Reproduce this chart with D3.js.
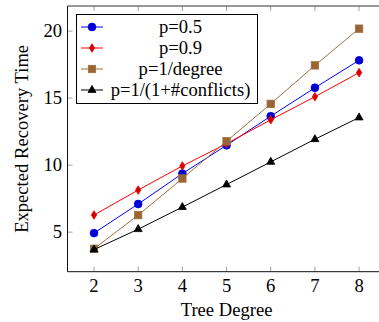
<!DOCTYPE html>
<html><head><meta charset="utf-8">
<script src="https://cdn.jsdelivr.net/npm/d3@7"></script>
<style>body{margin:0;background:#fff}svg{display:block}text{font-family:"Liberation Serif","Times New Roman",serif;}</style>
</head><body><svg id="c" width="379" height="322"></svg>
<script>
const degrees = [2,3,4,5,6,7,8];
const p05 = [4.93,7.1,9.37,11.48,13.65,15.77,17.82];
const p09 = [6.28,8.14,9.94,11.6,13.38,15.1,16.9];
const pDeg = [3.76,6.27,9.0,11.78,14.57,17.44,20.18];
const pConf = [3.7,5.22,6.87,8.55,10.24,11.93,13.55];
const seriesNames = ["p=0.5","p=0.9","p=1/degree","p=1/(1+#conflicts)"];
const xTicks = [2,3,4,5,6,7,8];
const yTicks = [5,10,15,20];

const series = [
  {name:seriesNames[0], vals:p05, stroke:"#0000ff", fill:"#0000cc", mark:"circle"},
  {name:seriesNames[1], vals:p09, stroke:"#ff0000", fill:"#cc0000", mark:"diamond"},
  {name:seriesNames[2], vals:pDeg, stroke:"#a0703f", fill:"#996633", mark:"square"},
  {name:seriesNames[3], vals:pConf, stroke:"#000000", fill:"#000000", mark:"triangle"}
];

const svg = d3.select("#c");
const L=67.5, R=385.6, T=6, B=271.7;
const x = d3.scaleLinear().domain([1.4,8.6]).range([L,R]);
const y = d3.scaleLinear().domain([2.05,21.87]).range([B,T]);
const FS = 18.6;

// ticks (inside, both sides)
const tickC = "#8c8c8c", tl=5;
const g = svg.append("g");
xTicks.forEach(t=>{
  g.append("line").attr("x1",x(t)).attr("x2",x(t)).attr("y1",B).attr("y2",B-tl).attr("stroke",tickC).attr("stroke-width",0.8);
  g.append("line").attr("x1",x(t)).attr("x2",x(t)).attr("y1",T).attr("y2",T+tl).attr("stroke",tickC).attr("stroke-width",0.8);
  g.append("text").attr("x",x(t)).attr("y",B+20.5).attr("text-anchor","middle").attr("font-size",FS).text(t);
});
yTicks.forEach(t=>{
  g.append("line").attr("x1",L).attr("x2",L+tl).attr("y1",y(t)).attr("y2",y(t)).attr("stroke",tickC).attr("stroke-width",0.8);
  g.append("text").attr("x",L-5.5).attr("y",y(t)+6).attr("text-anchor","end").attr("font-size",FS).text(t);
});
// axis box
svg.append("line").attr("x1",L).attr("x2",L).attr("y1",T).attr("y2",B).attr("stroke","#111").attr("stroke-width",1);
svg.append("line").attr("x1",L).attr("x2",R).attr("y1",B).attr("y2",B).attr("stroke","#111").attr("stroke-width",1);
svg.append("line").attr("x1",L).attr("x2",R).attr("y1",T).attr("y2",T).attr("stroke","#333").attr("stroke-width",1);

// axis labels
svg.append("text").attr("x",x(5)).attr("y",316).attr("text-anchor","middle").attr("font-size",FS).text("Tree Degree");
svg.append("text").attr("transform","translate(28,"+((T+B)/2)+") rotate(-90)").attr("text-anchor","middle").attr("font-size",FS).text("Expected Recovery Time");

function drawMark(sel, s, cx, cy){
  if(s.mark==="circle") sel.append("circle").attr("cx",cx).attr("cy",cy).attr("r",3.9).attr("fill",s.fill).attr("stroke",s.stroke).attr("stroke-width",0.8);
  else if(s.mark==="diamond") sel.append("path").attr("d",`M${cx},${cy-4.3}L${cx+2.7},${cy}L${cx},${cy+4.3}L${cx-2.7},${cy}Z`).attr("fill",s.fill).attr("stroke",s.stroke).attr("stroke-width",0.8);
  else if(s.mark==="square") sel.append("rect").attr("x",cx-3.7).attr("y",cy-3.7).attr("width",7.4).attr("height",7.4).attr("fill",s.fill).attr("stroke",s.stroke).attr("stroke-width",0.8);
  else sel.append("path").attr("d",`M${cx},${cy-4.6}L${cx+4},${cy+2.4}L${cx-4},${cy+2.4}Z`).attr("fill",s.fill).attr("stroke",s.stroke).attr("stroke-width",0.8);
}

const line = d3.line().x((d,i)=>x(degrees[i])).y(d=>y(d));
series.forEach(s=>{
  const gs = svg.append("g");
  gs.append("path").attr("d",line(s.vals)).attr("fill","none").attr("stroke",s.stroke).attr("stroke-width",1);
  s.vals.forEach((v,i)=>drawMark(gs,s,x(degrees[i]),y(v)));
});

// legend
const lg = svg.append("g");
lg.append("rect").attr("x",76.5).attr("y",14.5).attr("width",181).attr("height",89).attr("fill","#fff").attr("stroke","#000").attr("stroke-width",1);
const rowY = [27,48,69,90];
series.forEach((s,i)=>{
  lg.append("line").attr("x1",81).attr("x2",103).attr("y1",rowY[i]).attr("y2",rowY[i]).attr("stroke",s.stroke).attr("stroke-width",1);
  drawMark(lg,s,92,rowY[i]);
  lg.append("text").attr("x",180.5).attr("y",rowY[i]+6).attr("text-anchor","middle").attr("font-size",FS).text(s.name);
});
</script></body></html>
